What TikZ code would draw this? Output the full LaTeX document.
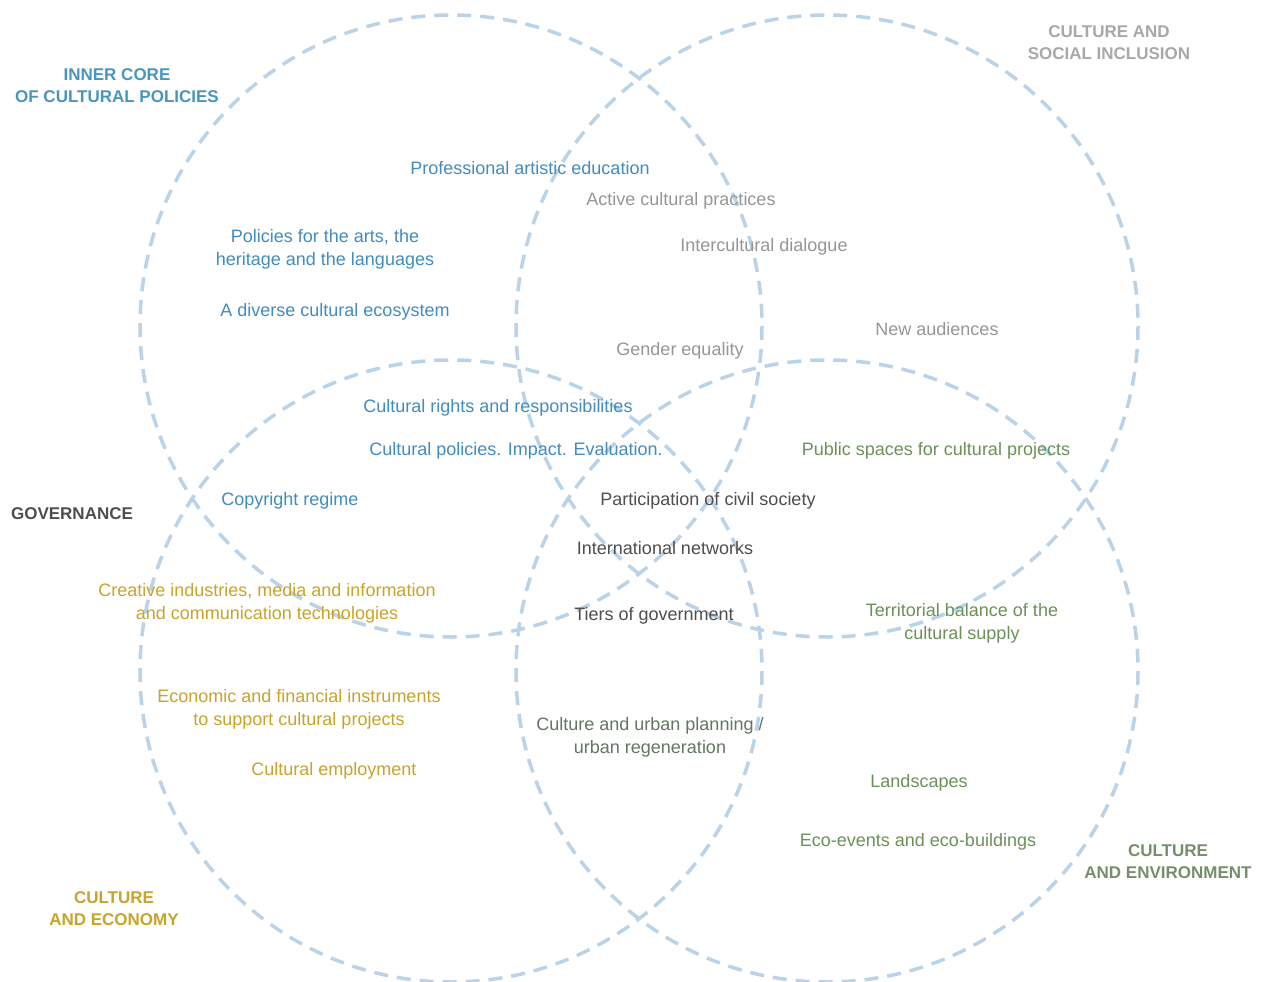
\documentclass[tikz,border=0pt]{standalone}
\usepackage{fontspec}
\setmainfont{Liberation Sans}
\definecolor{ringc}{RGB}{187,211,232}
\definecolor{bluec}{RGB}{66,140,192}
\definecolor{blueh}{RGB}{72,150,192}
\definecolor{grayc}{RGB}{150,150,150}
\definecolor{grayh}{RGB}{168,168,168}
\definecolor{darkc}{RGB}{78,78,78}
\definecolor{goldc}{RGB}{200,164,40}
\definecolor{greenc}{RGB}{108,145,88}
\definecolor{greenh}{RGB}{118,142,108}
\definecolor{urbanc}{RGB}{98,118,98}
\tikzset{
  ring/.style={draw=ringc, line width=3.5pt, dash pattern=on 14pt off 9pt},
  item/.style={inner sep=0pt, align=center, yshift=-1.5pt, font=\fontsize{18}{23}\selectfont},
  head/.style={inner sep=0pt, align=center, yshift=-1pt, font=\fontsize{17}{22}\selectfont\bfseries},
}
\begin{document}
\begin{tikzpicture}[x=1pt,y=-1pt]
\useasboundingbox (0,0) rectangle (1269,982);
\fill[white] (0,0) rectangle (1269,982);
% circles
\draw[ring] (451,326) circle (311);
\draw[ring] (827,326) circle (311);
\draw[ring] (451,671) circle (311);
\draw[ring] (827,671) circle (311);
% headings
\node[head, text=blueh] (hcore) at (117,85) {INNER CORE\\OF CULTURAL POLICIES};
\node[head, text=grayh] (hsoc) at (1109,42) {CULTURE AND\\SOCIAL INCLUSION};
\node[head, text=darkc] (hgov) at (72,513) {GOVERNANCE};
\node[head, text=goldc] (heco) at (114,908) {CULTURE\\AND ECONOMY};
\node[head, text=greenh] (henv) at (1168,861) {CULTURE\\AND ENVIRONMENT};
% blue items
\node[item, text=bluec] (pae) at (530,167) {Professional artistic education};
\node[item, text=bluec] (pol) at (325,248) {Policies for the arts, the\\heritage and the languages};
\node[item, text=bluec] (div) at (335,310) {A diverse cultural ecosystem};
\node[item, text=bluec] (rig) at (498,406) {Cultural rights and responsibilities};
\node[item, text=bluec] (imp) at (516,449) {Cultural policies. Impact. Evaluation.};
\node[item, text=bluec] (cop) at (290,499) {Copyright regime};
% gray items
\node[item, text=grayc] (act) at (681,199) {Active cultural practices};
\node[item, text=grayc] (int) at (764,245) {Intercultural dialogue};
\node[item, text=grayc] (new) at (937,328) {New audiences};
\node[item, text=grayc] (gen) at (680,349) {Gender equality};
% dark items
\node[item, text=darkc] (par) at (708,499) {Participation of civil society};
\node[item, text=darkc] (net) at (665,547) {International networks};
\node[item, text=darkc] (tie) at (654,614) {Tiers of government};
% green items
\node[item, text=greenc] (pub) at (936,449) {Public spaces for cultural projects};
\node[item, text=greenc] (ter) at (962,622) {Territorial balance of the\\cultural supply};
\node[item, text=greenc] (lan) at (919,781) {Landscapes};
\node[item, text=greenc] (eco) at (918,840) {Eco-events and eco-buildings};
\node[item, text=urbanc] (urb) at (650,736) {Culture and urban planning /\\urban regeneration};
% gold items
\node[item, text=goldc] (cre) at (267,602) {Creative industries, media and information\\and communication technologies};
\node[item, text=goldc] (fin) at (299,708) {Economic and financial instruments\\to support cultural projects};
\node[item, text=goldc] (emp) at (334,769) {Cultural employment};
\end{tikzpicture}
\end{document}
